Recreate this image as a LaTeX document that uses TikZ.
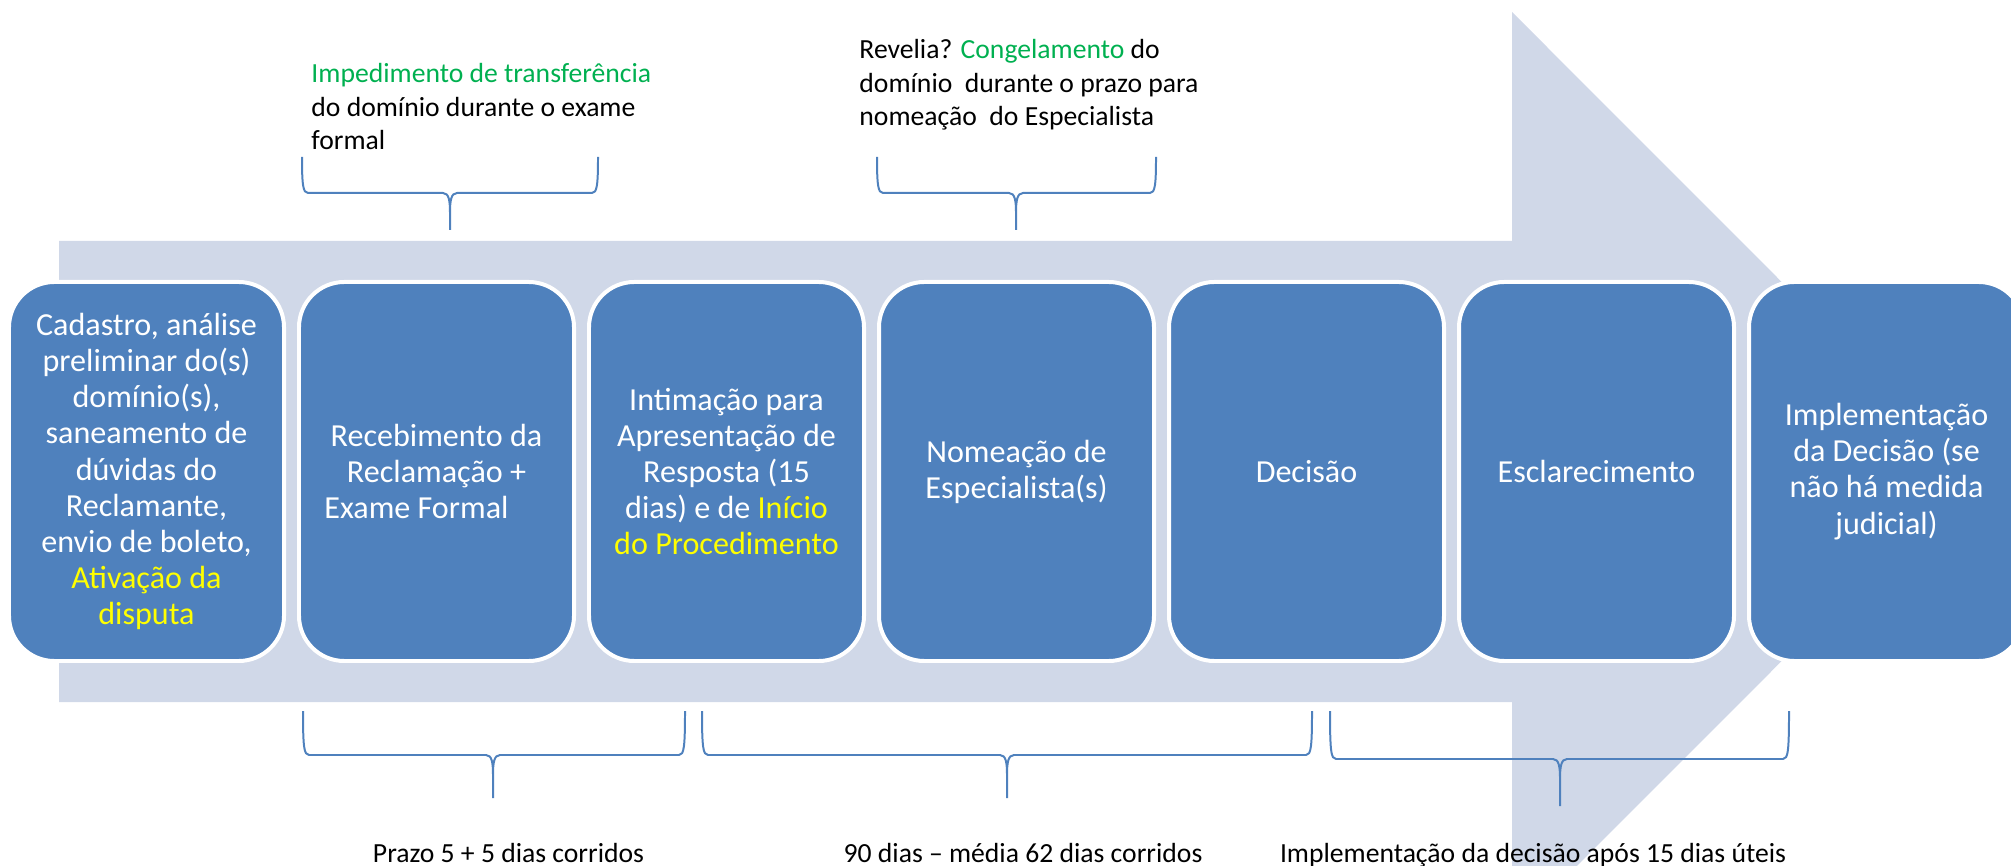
\documentclass[tikz,border=0pt]{standalone}
\usepackage{fontspec}
\setmainfont{Carlito}
\definecolor{seta}{HTML}{D0D8E8}
\definecolor{caixa}{HTML}{4F81BD}
\definecolor{verde}{HTML}{00B050}
\definecolor{amarelo}{HTML}{FFFF00}
\tikzset{
  etapa/.style={draw=white, line width=1.7pt, fill=caixa, rounded corners=0.68cm,
    minimum width=4.125cm, minimum height=5.685cm, text=white, align=center,
    font=\fontsize{13.7}{15.4}\selectfont},
  nota/.style={align=left, inner sep=0pt, font=\fontsize{11.8}{14.3}\selectfont},
  chave/.style={draw=caixa, line width=0.85pt},
}
\begin{document}
\begin{tikzpicture}[x=0.015cm,y=-0.015cm]
    \useasboundingbox (0,0) rectangle (2011,866);
    \clip (0,0) rectangle (2011,866);

    % seta de fundo
    \fill[seta] (59,241) -- (1512,241) -- (1512,12) -- (1971,471.5) -- (1512,931) -- (1512,702) -- (59,702) -- cycle;

    \node[etapa] (cadastro) at (146.5,471.5) {Cadastro, análise\\preliminar do(s)\\domínio(s),\\saneamento de\\dúvidas do\\Reclamante,\\envio de boleto,\\{\color{amarelo}Ativação da}\\{\color{amarelo}disputa}};
    \node[etapa] (recebimento) at (436.5,471.5) {Recebimento da\\Reclamação +\\Exame Formal\hspace*{1.25em}};
    \node[etapa] (intimacao) at (726.5,471.5) {Intimação para\\Apresentação de\\Resposta (15\\dias) e de {\color{amarelo}Início}\\{\color{amarelo}do Procedimento}};
    \node[etapa] (nomeacao) at (1016.5,471.5) {Nomeação de\\Especialista(s)};
    \node[etapa] (decisao) at (1306.5,471.5) {Decisão};
    \node[etapa] (esclarecimento) at (1596.5,471.5) {Esclarecimento};
    \node[etapa] (implementacao) at (1886.5,471.5) {Implementação\\da Decisão (se\\não há medida\\judicial)};

    \node[nota, anchor=north west] (impedimento) at (311,63) {\textcolor{verde}{Impedimento de transferência}\\do domínio durante o exame\\formal};
    \node[nota, anchor=north west] (revelia) at (859,39) {Revelia? \textcolor{verde}{Congelamento} do\\domínio\ \ durante o prazo para\\nomeação\ \ do Especialista};

    \draw[chave] (302,157) .. controls (302,185) and (303,193) .. (308,193) -- (443,193) .. controls (449,193) and (450,201) .. (450,213) -- (450,230)
                 (450,213) .. controls (450,201) and (451,193) .. (457,193) -- (592,193) .. controls (597,193) and (598,185) .. (598,157);
    \draw[chave] (877,157) .. controls (877,185) and (878,193) .. (883,193) -- (1009,193) .. controls (1015,193) and (1016,201) .. (1016,213) -- (1016,230)
                 (1016,213) .. controls (1016,201) and (1017,193) .. (1023,193) -- (1150,193) .. controls (1155,193) and (1156,185) .. (1156,157);

    \draw[chave] (303,711) .. controls (303,747) and (304,755) .. (309,755) -- (486,755) .. controls (492,755) and (493,763) .. (493,775) -- (493,798)
                 (493,775) .. controls (493,763) and (494,755) .. (500,755) -- (679,755) .. controls (684,755) and (685,747) .. (685,711);
    \draw[chave] (702,711) .. controls (702,747) and (703,755) .. (708,755) -- (1000,755) .. controls (1006,755) and (1007,763) .. (1007,775) -- (1007,798)
                 (1007,775) .. controls (1007,763) and (1008,755) .. (1014,755) -- (1306,755) .. controls (1311,755) and (1312,747) .. (1312,711);
    \draw[chave] (1330,711) .. controls (1330,751) and (1331,759) .. (1336,759) -- (1553,759) .. controls (1559,759) and (1560,767) .. (1560,779) -- (1560,806)
                 (1560,779) .. controls (1560,767) and (1561,759) .. (1567,759) -- (1783,759) .. controls (1788,759) and (1789,751) .. (1789,711);

    \node[nota, anchor=base] (prazo) at (508.5,862) {Prazo 5 + 5 dias corridos};
    \node[nota, anchor=base] (noventa) at (1023,862) {90 dias – média 62 dias corridos};
    \node[nota, anchor=base] (quinze) at (1533,862) {Implementação da decisão após 15 dias úteis};
\end{tikzpicture}
\end{document}
